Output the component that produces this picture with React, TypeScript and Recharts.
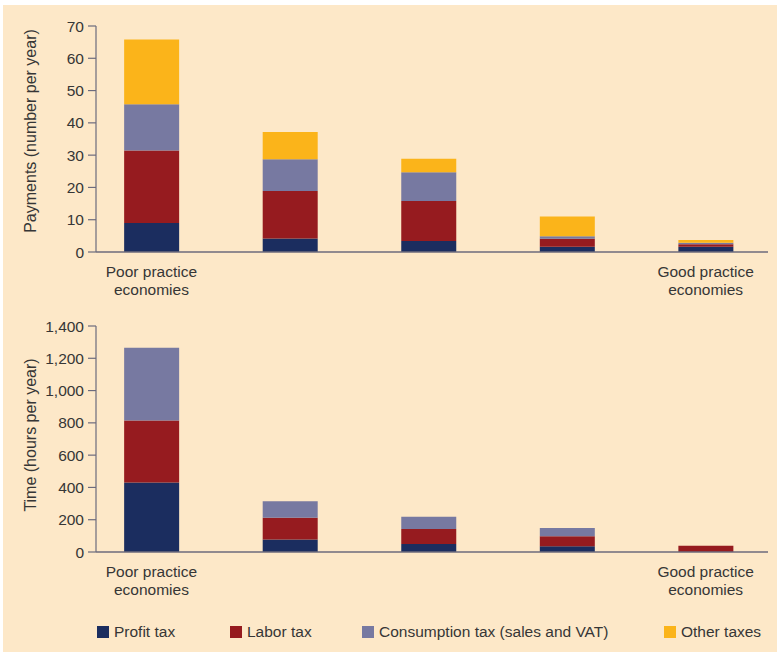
import React from 'react';
import { BarChart, Bar, XAxis, YAxis } from 'recharts';

// ---- data ----
const positions = [0, 1, 2, 3, 4];
const xTickLabels: string[][] = [
  ['Poor practice', 'economies'],
  [],
  [],
  [],
  ['Good practice', 'economies'],
];
const seriesNames = ['Profit tax', 'Labor tax', 'Consumption tax (sales and VAT)', 'Other taxes'];
const seriesColors = ['#1b2d5f', '#961b1f', '#7779a1', '#fbb41a'];

// Payments (number per year)
const payProfit = [9, 4.2, 3.4, 1.6, 1.6];
const payLabor = [22.4, 14.7, 12.4, 2.5, 0.8];
const payConsumption = [14.4, 9.8, 8.9, 0.8, 0.5];
const payOther = [20, 8.5, 4.2, 6.1, 0.8];
const payTicks = [0, 10, 20, 30, 40, 50, 60, 70];

// Time (hours per year)
const timeProfit = [430, 77, 50, 35, 0];
const timeLabor = [385, 135, 92, 63, 38];
const timeConsumption = [450, 103, 76, 51, 0];
const timeTicks = [0, 200, 400, 600, 800, 1000, 1200, 1400];

const payData = positions.map((p, i) => ({
  pos: p,
  profit: payProfit[i],
  labor: payLabor[i],
  consumption: payConsumption[i],
  other: payOther[i],
}));
const timeData = positions.map((p, i) => ({
  pos: p,
  profit: timeProfit[i],
  labor: timeLabor[i],
  consumption: timeConsumption[i],
}));

// ---- styles ----
const FONT = '"Liberation Sans", Arial, sans-serif';
const TEXT = '#363636';
const AXIS = '#6c6b7d';
const BG = '#fde8c8';

const XTick = (props: any) => {
  const { x, y, payload } = props;
  const lines = xTickLabels[payload.value] || [];
  return (
    <g>
      {lines.map((l, i) => (
        <text
          key={i}
          x={x}
          y={y + 24.5 + i * 18.3}
          textAnchor="middle"
          fill={TEXT}
          fontSize={15.5}
          fontFamily={FONT}
        >
          {l}
        </text>
      ))}
    </g>
  );
};

const makeTitle = (text: string, shift: number) => (p: any) => {
  const vb = p && p.viewBox ? p.viewBox : { x: 0, y: 26, width: 96, height: 226 };
  const cx = vb.x + 30;
  const cy = vb.y + vb.height / 2 - shift;
  return (
    <text
      x={cx}
      y={cy}
      transform={`rotate(-90 ${cx} ${cy})`}
      textAnchor="middle"
      dominantBaseline="central"
      fill={TEXT}
      fontSize={16}
      fontFamily={FONT}
    >
      {text}
    </text>
  );
};

const keys = ['profit', 'labor', 'consumption', 'other'];

function Panel({ data, ticks, label, fmt, nSeries, shift }: any) {
  return (
    <BarChart
      width={777}
      height={300}
      data={data}
      margin={{ top: 26, right: 9, left: 0, bottom: 0 }}
    >
      <XAxis
        dataKey="pos"
        type="number"
        domain={[-0.4, 4.45]}
        allowDataOverflow
        ticks={[0, 4]}
        tick={<XTick />}
        tickLine={false}
        tickSize={0}
        tickMargin={0}
        height={48}
        axisLine={{ stroke: AXIS, strokeWidth: 1.4 }}
        interval={0}
      />
      <YAxis
        width={96}
        domain={[ticks[0], ticks[ticks.length - 1]]}
        ticks={ticks}
        interval={0}
        tickFormatter={fmt}
        tickSize={8}
        tickMargin={4}
        tick={{ fill: TEXT, fontSize: 15.5, fontFamily: FONT }}
        tickLine={{ stroke: AXIS, strokeWidth: 1.2 }}
        axisLine={{ stroke: AXIS, strokeWidth: 1.2 }}
        label={{ value: label, content: makeTitle(label, shift) }}
      />
      {keys.slice(0, nSeries).map((k, i) => (
        <Bar
          key={k}
          dataKey={k}
          stackId="s"
          fill={seriesColors[i]}
          barSize={55}
          isAnimationActive={false}
        />
      ))}
    </BarChart>
  );
}

const legendLeft = [97, 230, 362, 664];

export default function App() {
  return (
    <div
      style={{
        position: 'absolute',
        left: 0,
        top: 0,
        width: 777,
        height: 652,
        background: '#ffffff',
        overflow: 'hidden',
      }}
    >
      <div
        style={{
          position: 'absolute',
          left: 3,
          top: 5,
          width: 774,
          height: 647,
          background: BG,
        }}
      />
      <div style={{ position: 'absolute', left: 0, top: 0 }}>
        <Panel
          data={payData}
          ticks={payTicks}
          label="Payments (number per year)"
          fmt={(v: number) => String(v)}
          nSeries={4}
          shift={8}
        />
      </div>
      <div style={{ position: 'absolute', left: 0, top: 300 }}>
        <Panel
          data={timeData}
          ticks={timeTicks}
          label="Time (hours per year)"
          fmt={(v: number) => v.toLocaleString('en-US')}
          nSeries={3}
          shift={4}
        />
      </div>
      {seriesNames.map((n, i) => (
        <div
          key={n}
          style={{
            position: 'absolute',
            left: legendLeft[i],
            top: 620,
            height: 24,
            display: 'flex',
            alignItems: 'center',
            fontFamily: FONT,
            fontSize: 15.5,
            color: TEXT,
            whiteSpace: 'nowrap',
          }}
        >
          <span
            style={{
              display: 'inline-block',
              width: 12,
              height: 12,
              background: seriesColors[i],
              marginRight: 5,
            }}
          />
          <span>{n}</span>
        </div>
      ))}
    </div>
  );
}
